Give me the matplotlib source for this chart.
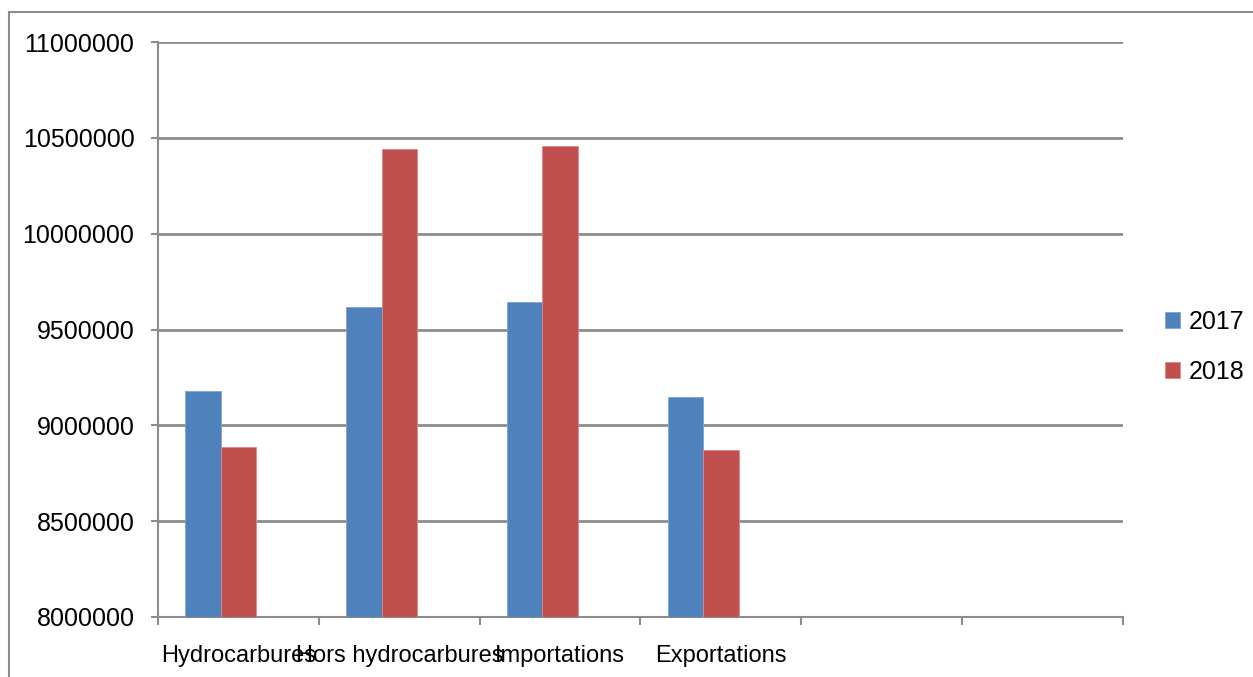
import numpy as np
import matplotlib.pyplot as plt
from matplotlib.lines import Line2D

plt.rc("font", family="Liberation Sans", size=18)

categories = ["Hydrocarbures", "Hors hydrocarbures", "Importations", "Exportations", "", ""]
values_2017 = [9179000, 9616000, 9643000, 9149000]
values_2018 = [8887000, 10440000, 10457000, 8870000]
yticks = [8000000, 8500000, 9000000, 9500000, 10000000, 10500000, 11000000]

blue = "#4F81BD"
red = "#C0504D"
grid_col = "#8C8C8C"

fig = plt.figure(figsize=(12.53, 6.77), dpi=100)
ax = fig.add_axes([158/1253, 60/677, (1123-158)/1253, (617-42)/677])

w = 0.22
x = np.arange(len(values_2017))
ax.bar(x - w, values_2017, width=w, color=blue, edgecolor="#7FA3D1", linewidth=0.6,
       label="2017", zorder=3)
ax.bar(x, values_2018, width=w, color=red, edgecolor="#D88A88", linewidth=0.6,
       label="2018", zorder=3)

ax.set_xlim(-0.5, len(categories) - 0.5)
ax.set_ylim(yticks[0], yticks[-1])
ax.set_yticks(yticks)
ax.set_yticklabels([str(v) for v in yticks])
ax.yaxis.grid(True, color=grid_col, linewidth=2, zorder=0)

# category boundaries get the tick marks, labels sit in the middle
ax.set_xticks(np.arange(len(categories) + 1) - 0.5)
ax.set_xticklabels([])
ax.set_xticks(np.arange(len(categories)), minor=True)
ax.set_xticklabels(categories, minor=True, fontsize=17)
ax.tick_params(axis="x", which="major", direction="out", length=6, width=1.5, color=grid_col)
ax.tick_params(axis="x", which="minor", length=0, pad=20)
ax.tick_params(axis="y", direction="out", length=5, width=1.5, color=grid_col, pad=12)

for side in ["top", "right"]:
    ax.spines[side].set_visible(False)
for side in ["left", "bottom"]:
    ax.spines[side].set_color(grid_col)
    ax.spines[side].set_linewidth(1.5)

leg = fig.legend(loc="center left", bbox_to_anchor=(1142/1253, 1 - 347/677), frameon=False,
                 handlelength=0.6, handleheight=0.6, handletextpad=0.35, labelspacing=1.05,
                 fontsize=18)

# chart frame
fig.add_artist(Line2D([9/1253, 9/1253], [0, 1 - 12/677], transform=fig.transFigure,
                      color=grid_col, linewidth=1.5))
fig.add_artist(Line2D([9/1253, 1], [1 - 12/677, 1 - 12/677], transform=fig.transFigure,
                      color=grid_col, linewidth=1.5))

fig.savefig("out.png", dpi=100)
